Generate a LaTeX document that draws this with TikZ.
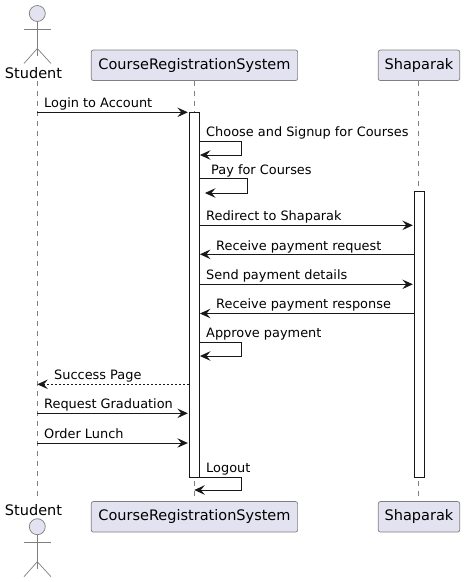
\documentclass[tikz,border=0pt]{standalone}
\usepackage{fontspec}
\setmainfont{DejaVu Sans}
\usetikzlibrary{arrows.meta}
\definecolor{partfill}{HTML}{E2E2F0}
\definecolor{partline}{HTML}{7F7F7F}
\definecolor{inkline}{HTML}{181818}
\tikzset{
    part/.style={draw=partline, fill=partfill, rounded corners=2pt, line width=0.7pt, inner sep=0pt,
        font=\fontsize{14.5}{16}\selectfont, text=black, minimum height=30.5pt},
    actorname/.style={inner sep=0pt, font=\fontsize{14.5}{16}\selectfont, text=black, anchor=base},
    actorline/.style={draw=partline, line width=0.7pt},
    bar/.style={draw=inkline, fill=white, line width=0.9pt, inner sep=0pt, minimum width=10pt, anchor=north},
    lifeline/.style={draw=partline, line width=0.6pt, dash pattern=on 5pt off 5pt},
    msg/.style={draw=inkline, line width=0.9pt, -{Stealth[length=10.5pt,width=9.5pt,inset=4pt]}, shorten >=1.2pt},
    msgback/.style={msg, shorten >=0pt},
    reply/.style={msgback, dash pattern=on 2pt off 2pt},
    msglabel/.style={inner sep=0pt, anchor=base west, font=\fontsize{12.9}{15}\selectfont, text=black},
}
\begin{document}
\begin{tikzpicture}[x=1pt, y=-1pt]
    \useasboundingbox (0,0) rectangle (464,582);

    % Participants, top and bottom
    \node[actorname] (studenttop) at (33.5,78.4) {Student};
    \node[actorname] (studentbot) at (33.5,515) {Student};
    \node[part, minimum width=206.3pt] (crstop) at (194.45,65.3) {CourseRegistrationSystem};
    \node[part, minimum width=206.3pt] (crsbot) at (194.45,516.8) {CourseRegistrationSystem};
    \node[part, minimum width=81.4pt] (shatop) at (419,65.3) {Shaparak};
    \node[part, minimum width=81.4pt] (shabot) at (419,516.8) {Shaparak};

    % Lifelines
    \coordinate (studentx) at (37.3,81);
    \coordinate (studenty) at (37.3,501);
    \coordinate (crsx) at (194.3,0);
    \coordinate (shax) at (418.3,0);
    \draw[lifeline] (studentx) -- (studenty);
    \draw[lifeline] (crsx |- crstop.south) -- (crsx |- crsbot.north);
    \draw[lifeline] (shax |- shatop.south) -- (shax |- shabot.north);

    % Actor figures
    \foreach \name/\yh in {acttop/13.5, actbot/526.7} {
        \node[circle, draw=partline, fill=partfill, line width=0.7pt, minimum size=16pt, inner sep=0pt] (\name) at (37.3,\yh) {};
        \draw[actorline] (\name.south) -- ++(0,33.7);
        \draw[actorline] (24,\yh+15.5) -- (51,\yh+15.5);
        \draw[actorline] (24,\yh+50) -- (37.3,\yh+35) -- (51,\yh+50);
    }

    % Activation bars
    \node[bar, minimum height=365pt] (crsbar) at (194.5,112.3) {};
    \node[bar, minimum height=286.3pt] (shabar) at (419.5,191) {};

    % Message rows
    \foreach \row/\yr in {login/112.3, choose/141.3, chooseback/155, pay/178.5, payback/193,
        redirect/225.3, request/254.3, send/284.3, response/313.5, approve/342.5, approveback/356,
        success/384.3, graduation/413.3, lunch/443, logout/477, logoutback/490} {
        \coordinate (\row) at (0,\yr);
    }

    % Messages
    \draw[msg] (studentx |- login) -- (crsbar.west |- login);
    \node[msglabel] (loginlabel) at (44,107) {Login to Account};

    \draw[msgback] (crsbar.east |- choose) -- ++(41.5,0) |- (crsbar.east |- chooseback);
    \node[msglabel] (chooselabel) at (206,136) {Choose and Signup for Courses};

    \draw[msgback] (crsbar.east |- pay) -- ++(47,0) |- ([xshift=5pt]crsbar.east |- payback);
    \node[msglabel] (paylabel) at (211,174) {Pay for Courses};

    \draw[msg] (crsbar.east |- redirect) -- (shabar.west |- redirect);
    \node[msglabel] (redirectlabel) at (206,220.5) {Redirect to Shaparak};

    \draw[msgback] (shabar.west |- request) -- (crsbar.east |- request);
    \node[msglabel] (requestlabel) at (216,250) {Receive payment request};

    \draw[msg] (crsbar.east |- send) -- (shabar.west |- send);
    \node[msglabel] (sendlabel) at (206,279) {Send payment details};

    \draw[msgback] (shabar.west |- response) -- (crsbar.east |- response);
    \node[msglabel] (responselabel) at (216,308.5) {Receive payment response};

    \draw[msgback] (crsbar.east |- approve) -- ++(41.5,0) |- (crsbar.east |- approveback);
    \node[msglabel] (approvelabel) at (206,337) {Approve payment};

    \draw[reply] (crsbar.west |- success) -- (studentx |- success);
    \node[msglabel] (successlabel) at (54,379) {Success Page};

    \draw[msg] (studentx |- graduation) -- (crsbar.west |- graduation);
    \node[msglabel] (graduationlabel) at (44,408.5) {Request Graduation};

    \draw[msg] (studentx |- lunch) -- (crsbar.west |- lunch);
    \node[msglabel] (lunchlabel) at (44,438) {Order Lunch};

    \draw[msgback] (crsbar.east |- logout) -- ++(41.5,0) |- (crsx |- logoutback);
    \node[msglabel] (logoutlabel) at (206,472) {Logout};
\end{tikzpicture}
\end{document}
